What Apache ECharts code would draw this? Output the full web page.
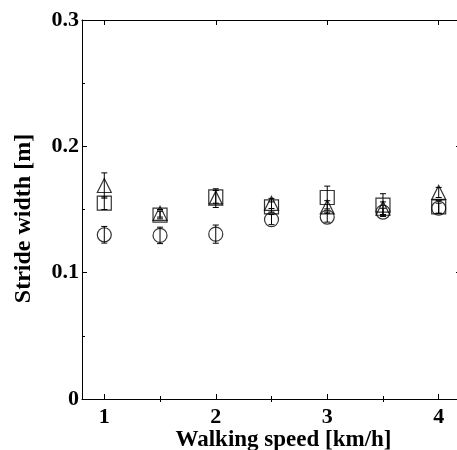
<!DOCTYPE html>
<html><head><meta charset="utf-8">
<script src="https://cdn.jsdelivr.net/npm/echarts@6/dist/echarts.min.js"></script>
<style>html,body{margin:0;padding:0;background:#fff}#c{width:457px;height:450px}</style>
</head><body><div id="c"></div>
<script>
const speeds = [1, 1.5, 2, 2.5, 3, 3.5, 4];
const circleVals = [0.130, 0.1295, 0.1305, 0.142, 0.144, 0.148, 0.151];
const circleErr  = [0.0066, 0.0065, 0.0072, 0.004, 0.004, 0.003, 0.004];
const squareVals = [0.155, 0.1456, 0.160, 0.152, 0.1595, 0.1535, 0.152];
const squareErr  = [0.005, 0.003, 0.005, 0.004, 0.009, 0.009, 0.005];
const triVals    = [0.169, 0.147, 0.159, 0.1548, 0.152, 0.151, 0.1635];
const triErr     = [0.010, 0.003, 0.0074, 0.004, 0.005, 0.005, 0.004];
const xMajorTicks = [1, 2, 3, 4];
const xMinorTicks = [1.5, 2.5, 3.5];

const FONT = "'Liberation Serif','Times New Roman',serif";
const FS = 22;
const chart = echarts.init(document.getElementById('c'), null, {renderer: 'canvas'});

function pts(vals) { return speeds.map((s, i) => [s, vals[i]]); }
function errPts(vals, errs) { return speeds.map((s, i) => [s, vals[i], errs[i]]); }

function errSeries(vals, errs) {
  return {
    type: 'custom',
    xAxisIndex: 0, yAxisIndex: 0,
    encode: {x: 0, y: 1},
    silent: true,
    data: errPts(vals, errs),
    renderItem: function (params, api) {
      const x = api.value(0), y = api.value(1), e = api.value(2);
      const t = api.coord([x, y + e]);
      const b = api.coord([x, y - e]);
      const w = 3;
      const st = {stroke: '#000', lineWidth: 1};
      return {
        type: 'group',
        children: [
          {type: 'line', shape: {x1: t[0], y1: t[1], x2: b[0], y2: b[1]}, style: st},
          {type: 'line', shape: {x1: t[0] - w, y1: t[1], x2: t[0] + w, y2: t[1]}, style: st},
          {type: 'line', shape: {x1: b[0] - w, y1: b[1], x2: b[0] + w, y2: b[1]}, style: st}
        ]
      };
    }
  };
}
function markSeries(vals, sym, size) {
  return {
    type: 'scatter',
    xAxisIndex: 0, yAxisIndex: 0,
    symbol: sym,
    symbolSize: size,
    data: pts(vals),
    itemStyle: {color: 'rgba(0,0,0,0)', borderColor: '#000', borderWidth: 1.2},
    emphasis: {disabled: true}
  };
}

const xBase = {type: 'value', min: 0.8, max: 4.2, splitLine: {show: false}};
const option = {
  animation: false,
  backgroundColor: '#fff',
  grid: {left: 82, top: 20, width: 379, height: 379, containLabel: false, outerBoundsMode: 'none'},
  xAxis: [
    Object.assign({}, xBase, {
      position: 'bottom',
      name: 'Walking speed [km/h]',
      nameLocation: 'middle',
      nameGap: 30,
      nameMoveOverlap: false,
      nameTextStyle: {fontFamily: FONT, fontWeight: 'bold', fontSize: 23, color: '#000', padding: [0, 0, 0, 24]},
      axisLine: {show: true, onZero: false, lineStyle: {color: '#000', width: 1}},
      axisTick: {show: true, inside: true, length: 5, customValues: xMajorTicks, lineStyle: {color: '#000'}},
      axisLabel: {show: true, customValues: xMajorTicks, fontFamily: FONT, fontWeight: 'bold', fontSize: FS, color: '#000', margin: 7}
    }),
    Object.assign({}, xBase, {
      position: 'bottom',
      axisLine: {show: false},
      axisTick: {show: true, inside: true, length: 3, customValues: xMinorTicks, lineStyle: {color: '#000'}},
      axisLabel: {show: false}
    }),
    Object.assign({}, xBase, {
      position: 'top',
      axisLine: {show: true, onZero: false, lineStyle: {color: '#000', width: 1}},
      axisTick: {show: true, inside: true, length: 5, customValues: xMajorTicks, lineStyle: {color: '#000'}},
      axisLabel: {show: false}
    }),
    Object.assign({}, xBase, {
      position: 'top',
      axisLine: {show: false},
      axisTick: {show: true, inside: true, length: 3, customValues: xMinorTicks, lineStyle: {color: '#000'}},
      axisLabel: {show: false}
    })
  ],
  yAxis: [
    {
      type: 'value', min: 0, max: 0.3, interval: 0.1, position: 'left',
      name: 'Stride width [m]',
      nameLocation: 'middle',
      nameGap: 46,
      nameMoveOverlap: false,
      nameTextStyle: {fontFamily: FONT, fontWeight: 'bold', fontSize: 24, color: '#000', padding: [0, 18, 0, 0]},
      splitLine: {show: false},
      axisLine: {show: true, onZero: false, lineStyle: {color: '#000', width: 1}},
      axisTick: {show: true, inside: true, length: 5, lineStyle: {color: '#000'}},
      minorTick: {show: true, splitNumber: 2, length: 3, lineStyle: {color: '#000'}},
      axisLabel: {fontFamily: FONT, fontWeight: 'bold', fontSize: FS, color: '#000', margin: 3}
    },
    {
      type: 'value', min: 0, max: 0.3, interval: 0.1, position: 'right',
      splitLine: {show: false},
      axisLine: {show: true, onZero: false, lineStyle: {color: '#000', width: 1}},
      axisTick: {show: true, inside: true, length: 5, lineStyle: {color: '#000'}},
      minorTick: {show: true, splitNumber: 2, length: 3, lineStyle: {color: '#000'}},
      axisLabel: {show: false}
    }
  ],
  series: [
    errSeries(circleVals, circleErr),
    errSeries(squareVals, squareErr),
    errSeries(triVals, triErr),
    markSeries(circleVals, 'circle', 14),
    markSeries(squareVals, 'rect', 14),
    markSeries(triVals, 'triangle', 14)
  ]
};
chart.setOption(option);
</script></body></html>
